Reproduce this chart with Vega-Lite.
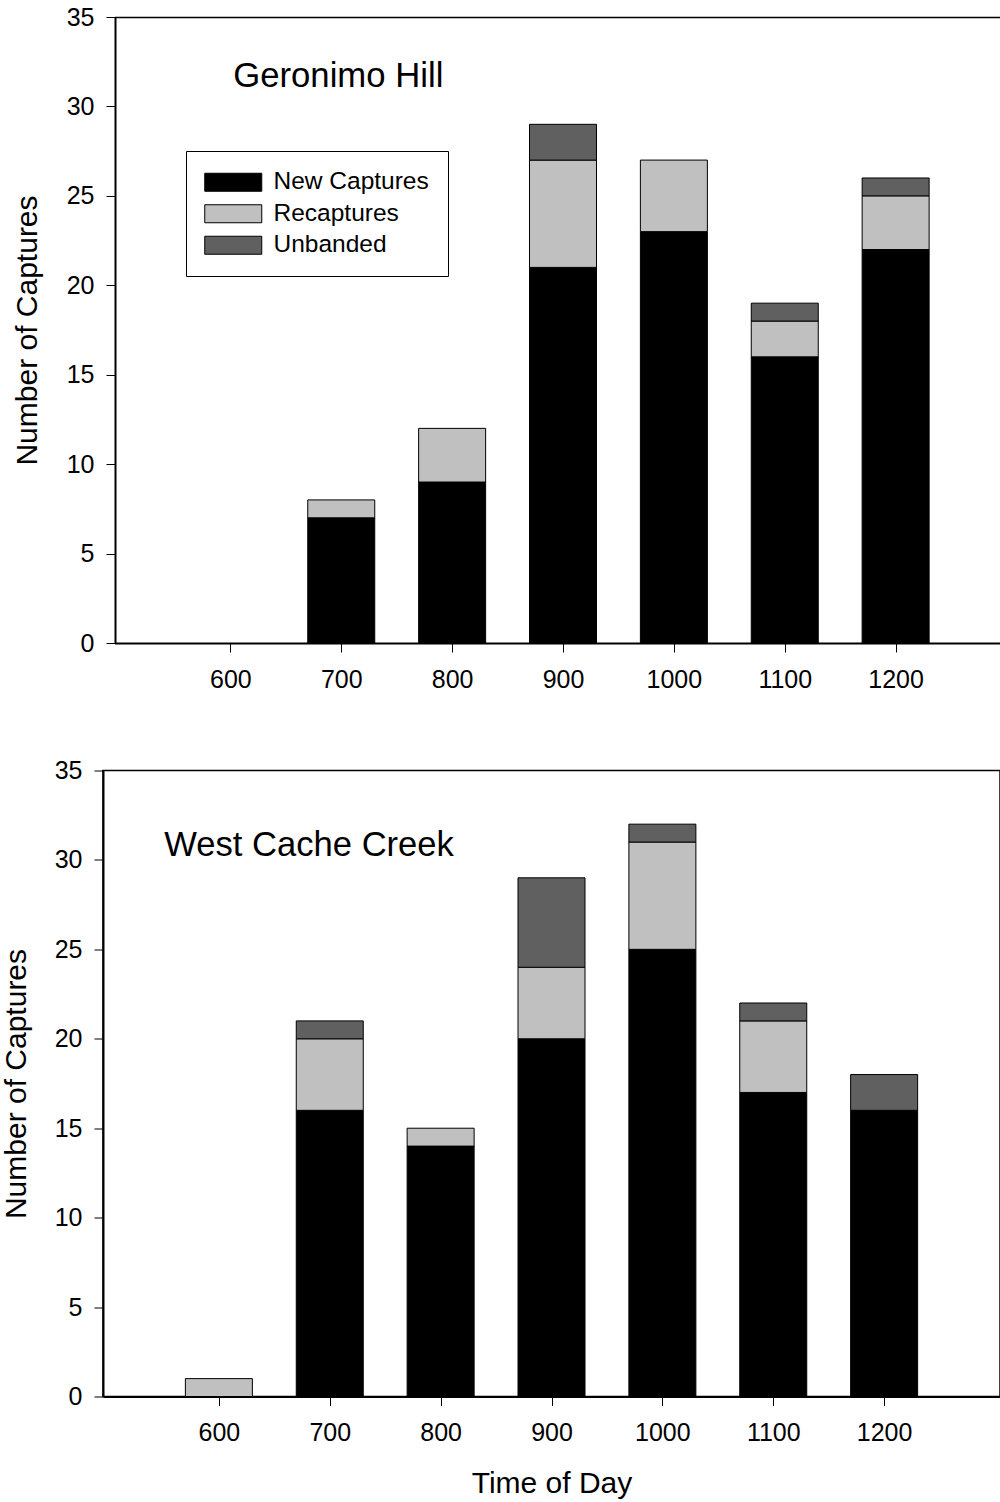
{
  "$schema": "https://vega.github.io/schema/vega-lite/v6.json",
  "padding": {"left": 0, "top": 5, "right": 0, "bottom": 0},
  "background": "white",
  "spacing": 65.5,
  "datasets": {
    "gh": [
      {"time": 700, "type": "New Captures", "count": 7},
      {"time": 700, "type": "Recaptures", "count": 1},
      {"time": 800, "type": "New Captures", "count": 9},
      {"time": 800, "type": "Recaptures", "count": 3},
      {"time": 900, "type": "New Captures", "count": 21},
      {"time": 900, "type": "Recaptures", "count": 6},
      {"time": 900, "type": "Unbanded", "count": 2},
      {"time": 1000, "type": "New Captures", "count": 23},
      {"time": 1000, "type": "Recaptures", "count": 4},
      {"time": 1100, "type": "New Captures", "count": 16},
      {"time": 1100, "type": "Recaptures", "count": 2},
      {"time": 1100, "type": "Unbanded", "count": 1},
      {"time": 1200, "type": "New Captures", "count": 22},
      {"time": 1200, "type": "Recaptures", "count": 3},
      {"time": 1200, "type": "Unbanded", "count": 1}
    ],
    "wcc": [
      {"time": 600, "type": "Recaptures", "count": 1},
      {"time": 700, "type": "New Captures", "count": 16},
      {"time": 700, "type": "Recaptures", "count": 4},
      {"time": 700, "type": "Unbanded", "count": 1},
      {"time": 800, "type": "New Captures", "count": 14},
      {"time": 800, "type": "Recaptures", "count": 1},
      {"time": 900, "type": "New Captures", "count": 20},
      {"time": 900, "type": "Recaptures", "count": 4},
      {"time": 900, "type": "Unbanded", "count": 5},
      {"time": 1000, "type": "New Captures", "count": 25},
      {"time": 1000, "type": "Recaptures", "count": 6},
      {"time": 1000, "type": "Unbanded", "count": 1},
      {"time": 1100, "type": "New Captures", "count": 17},
      {"time": 1100, "type": "Recaptures", "count": 4},
      {"time": 1100, "type": "Unbanded", "count": 1},
      {"time": 1200, "type": "New Captures", "count": 16},
      {"time": 1200, "type": "Unbanded", "count": 2}
    ]
  },
  "config": {
    "font": "Liberation Sans",
    "view": {"stroke": "black", "strokeWidth": 1.5},
    "axis": {
      "grid": false,
      "domainColor": "black",
      "domainWidth": 2,
      "tickColor": "black",
      "tickSize": 9,
      "tickWidth": 1,
      "labelFont": "Liberation Sans",
      "labelFontSize": 25,
      "labelColor": "black",
      "titleFont": "Liberation Sans",
      "titleFontSize": 30,
      "titleFontWeight": "normal",
      "titleColor": "black"
    },
    "axisY": {"labelPadding": 12, "titlePadding": 23},
    "axisX": {"labelPadding": 15, "titlePadding": 23, "labelFlush": false, "labelOverlap": false}
  },
  "resolve": {"scale": {"color": "independent"}, "legend": {"color": "independent"}},
  "vconcat": [
    {
      "width": 909,
      "height": 626,
      "view": {"stroke": null},
      "resolve": {"axis": {"x": "independent"}},
      "layer": [
        {
          "data": {"name": "gh"},
          "mark": {"type": "bar", "width": 67, "stroke": "black", "strokeWidth": 1},
          "encoding": {
            "x": {"field": "time", "type": "quantitative", "scale": {"domain": [500, 1300], "range": [11.5, 908.5], "nice": false, "zero": false}, "axis": {"values": [600, 700, 800, 900, 1000, 1100, 1200], "title": null, "format": "d"}},
            "y": {"field": "count", "type": "quantitative", "stack": "zero", "scale": {"domain": [0, 35], "nice": false}, "axis": {"values": [0, 5, 10, 15, 20, 25, 30, 35], "title": "Number of Captures", "offset": -12, "titlePadding": 24}},
            "order": {"field": "type", "sort": "ascending"},
            "color": {
              "field": "type", "type": "nominal",
              "scale": {"domain": ["New Captures", "Recaptures", "Unbanded"], "range": ["#000000", "#c0c0c0", "#606060"]},
              "legend": {
                "orient": "none", "legendX": 83, "legendY": 134, "title": null,
                "strokeColor": "black", "fillColor": "white", "padding": 19,
                "symbolType": "M-2.85,-0.9H2.85V0.9H-2.85Z", "symbolSize": 400,
                "symbolStrokeColor": "black", "symbolStrokeWidth": 1,
                "symbolOffset": 16, "labelOffset": 28,
                "labelFont": "Liberation Sans", "labelFontSize": 24.5, "labelColor": "black",
                "rowPadding": 6.5, "labelLimit": 400
              }
            }
          }
        },
        {
          "data": {"values": [{}]},
          "mark": {"type": "text", "text": "Geronimo Hill", "font": "Liberation Sans", "fontSize": 34.7, "align": "left", "baseline": "alphabetic", "color": "black"},
          "encoding": {
            "x": {"datum": 602.6, "type": "quantitative", "axis": {"orient": "top", "domain": true, "domainWidth": 1.5, "ticks": false, "labels": false, "title": null, "grid": false}},
            "y": {"datum": 31.1, "type": "quantitative"}
          }
        }
      ]
    },
    {
      "width": 897,
      "height": 626,
      "layer": [
        {
          "data": {"name": "wcc"},
          "mark": {"type": "bar", "width": 67, "stroke": "black", "strokeWidth": 1},
          "encoding": {
            "x": {"field": "time", "type": "quantitative", "scale": {"domain": [500, 1300], "nice": false, "zero": false}, "axis": {"values": [600, 700, 800, 900, 1000, 1100, 1200], "title": "Time of Day", "format": "d"}},
            "y": {"field": "count", "type": "quantitative", "stack": "zero", "scale": {"domain": [0, 35], "nice": false}, "axis": {"values": [0, 5, 10, 15, 20, 25, 30, 35], "title": "Number of Captures"}},
            "order": {"field": "type", "sort": "ascending"},
            "color": {
              "field": "type", "type": "nominal",
              "scale": {"domain": ["New Captures", "Recaptures", "Unbanded"], "range": ["#000000", "#c0c0c0", "#606060"]},
              "legend": null
            }
          }
        },
        {
          "data": {"values": [{}]},
          "mark": {"type": "text", "text": "West Cache Creek", "font": "Liberation Sans", "fontSize": 34.6, "align": "left", "baseline": "alphabetic", "color": "black"},
          "encoding": {"x": {"datum": 550.8}, "y": {"datum": 30.2}}
        }
      ]
    }
  ]
}
